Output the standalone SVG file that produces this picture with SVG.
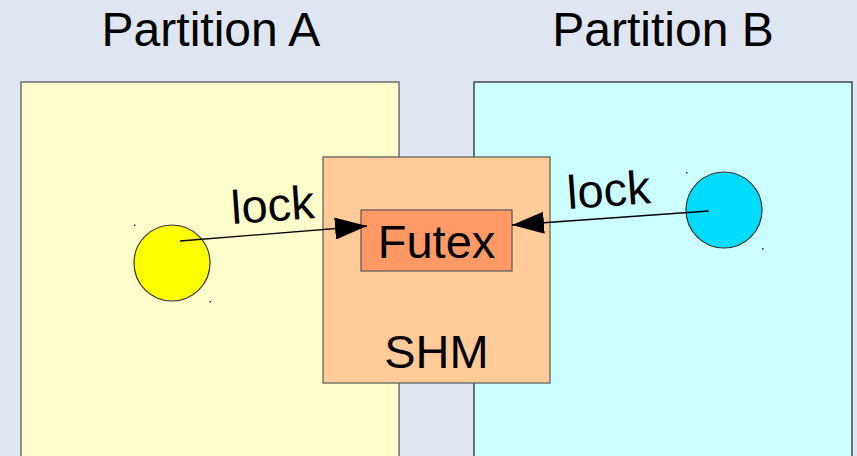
<svg xmlns="http://www.w3.org/2000/svg" width="857" height="456" viewBox="0 0 857 456">
<style>
text{font-family:"Liberation Sans",Arial,sans-serif;fill:#000}
.t{font-size:46px}
.h{font-size:48px}
.f{font-size:47px}
.conn{stroke:#000;stroke-width:1.3;fill:none}
.dot{fill:#333}
</style>
<defs>
<marker id="ah" viewBox="0 0 32 22" refX="32" refY="11" markerWidth="32" markerHeight="22" markerUnits="userSpaceOnUse" orient="auto">
<path d="M0,0 L32,11 L0,22 Z" fill="#000"/>
</marker>
</defs>
<rect width="857" height="456" fill="#dfe5f1"/>
<g id="partitionA">
<rect x="21" y="82" width="378" height="390" fill="#ffffcc" stroke="#6b6f70" stroke-width="1.5"/>
<text class="h" x="211" y="46" text-anchor="middle">Partition A</text>
</g>
<g id="partitionB">
<rect x="474" y="82" width="378" height="390" fill="#ccffff" stroke="#404848" stroke-width="1.5"/>
<text class="h" x="663" y="46" text-anchor="middle">Partition B</text>
</g>
<g id="shm">
<rect x="323" y="157" width="227" height="226" fill="#ffcc99" stroke="#555" stroke-width="1.2"/>
<text class="f" x="436.500" y="368" text-anchor="middle">SHM</text>
</g>
<g id="futex">
<rect x="361" y="210" width="151" height="61" fill="#ff9966" stroke="#555" stroke-width="1.2"/>
<text class="f" x="436.500" y="258" text-anchor="middle">Futex</text>
</g>
<g id="procA">
<circle cx="172" cy="263" r="38" fill="#ffff00" stroke="#333" stroke-width="1.2"/>
<rect class="dot" x="134" y="224.500" width="1.500" height="1.500"/>
<rect class="dot" x="209.500" y="301" width="1.500" height="1.500"/>
</g>
<g id="procB">
<circle cx="724" cy="210" r="38" fill="#00dcff" stroke="#333" stroke-width="1.2"/>
<rect class="dot" x="686" y="172" width="1.500" height="1.500"/>
<rect class="dot" x="762" y="248" width="1.500" height="1.500"/>
</g>
<g id="connectors">
<line class="conn" x1="180" y1="241" x2="367" y2="226" marker-end="url(#ah)"/>
<line class="conn" x1="709" y1="211" x2="512" y2="225" marker-end="url(#ah)"/>
<text class="f" x="232" y="224" transform="rotate(-4 232 224)">lock</text>
<text class="f" x="568" y="209" transform="rotate(-4 568 209)">lock</text>
</g>
</svg>
